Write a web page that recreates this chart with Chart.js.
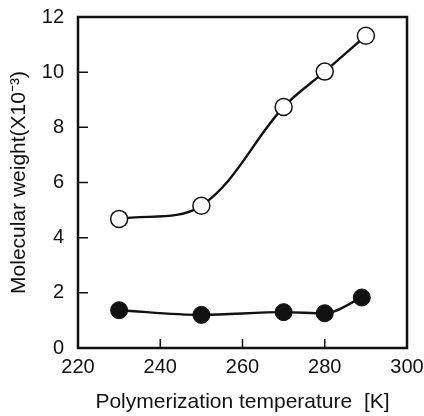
<!DOCTYPE html>
<html>
<head>
<meta charset="UTF-8">
<script src="https://cdn.jsdelivr.net/npm/chart.js"></script>
<style>
  body { margin: 0; background: #fff; }
  #wrap { width: 424px; height: 416px; }
</style>
</head>
<body>
<div id="wrap"><canvas id="c"></canvas></div>
<script>
// values
const tempOpen = [230, 250, 270, 280, 290];
const mwOpen = [4.68, 5.16, 8.74, 10.02, 11.32];
const tempFilled = [230, 250, 270, 280, 289];
const mwFilled = [1.37, 1.2, 1.3, 1.26, 1.83];
const xTicks = [220, 240, 260, 280, 300];
const yTicks = [0, 2, 4, 6, 8, 10, 12];

function pts(xs, ys) {
  return xs.map((x, i) => ({ x: x, y: ys[i] }));
}

// frame box + inward tick marks
const framePlugin = {
  id: 'frame',
  afterDraw(chart) {
    const { ctx, chartArea: a, scales } = chart;
    ctx.save();
    ctx.strokeStyle = '#111';
    ctx.lineWidth = 2.5;
    ctx.strokeRect(a.left, a.top, a.right - a.left, a.bottom - a.top);
    ctx.lineWidth = 1.5;
    ctx.beginPath();
    xTicks.slice(1, -1).forEach(v => {
      const px = scales.x.getPixelForValue(v);
      ctx.moveTo(px, a.bottom);
      ctx.lineTo(px, a.bottom - 9);
    });
    yTicks.slice(1, -1).forEach(v => {
      const py = scales.y.getPixelForValue(v);
      ctx.moveTo(a.left, py);
      ctx.lineTo(a.left + 10, py);
    });
    ctx.stroke();
    ctx.restore();
  }
};

function noOverflow(s) {
  s.paddingTop = 0;
  s.paddingBottom = 0;
  s.paddingLeft = 0;
  s.paddingRight = 0;
}

new Chart(document.getElementById('c'), {
  type: 'line',
  data: {
    datasets: [{
      data: pts(tempOpen, mwOpen),
      borderColor: '#111',
      borderWidth: 2.4,
      pointRadius: 8.5,
      pointBackgroundColor: '#fff',
      pointBorderColor: '#111',
      pointBorderWidth: 1.5,
      tension: 0.35
    }, {
      data: pts(tempFilled, mwFilled),
      borderColor: '#111',
      borderWidth: 2.4,
      pointRadius: 8.5,
      pointBackgroundColor: '#111',
      pointBorderColor: '#111',
      pointBorderWidth: 1,
      cubicInterpolationMode: 'monotone'
    }]
  },
  options: {
    responsive: true,
    maintainAspectRatio: false,
    animation: false,
    layout: { padding: { left: 0, right: 17, top: 17, bottom: 0 } },
    plugins: { legend: { display: false }, tooltip: { enabled: false } },
    scales: {
      x: {
        type: 'linear',
        min: 220,
        max: 300,
        afterBuildTicks(s) { s.ticks = xTicks.map(v => ({ value: v })); },
        afterFit(s) { s.height = 68; noOverflow(s); },
        grid: { display: false, drawTicks: false },
        border: { display: false },
        ticks: { padding: 7, color: '#111', font: { family: 'Liberation Sans', size: 20 } },
        title: {
          display: true,
          text: 'Polymerization temperature  [K]',
          color: '#111',
          font: { family: 'Liberation Sans', size: 21 },
          padding: { top: 4, bottom: 1 }
        }
      },
      y: {
        min: 0,
        max: 12,
        afterBuildTicks(s) { s.ticks = yTicks.map(v => ({ value: v })); },
        afterFit(s) { s.width = 78; noOverflow(s); },
        grid: { display: false, drawTicks: false },
        border: { display: false },
        ticks: { padding: 14, color: '#111', font: { family: 'Liberation Sans', size: 20 } },
        title: {
          display: true,
          text: 'Molecular weight(X10⁻³)',
          color: '#111',
          font: { family: 'Liberation Sans', size: 21 },
          padding: { top: 7, bottom: 0 }
        }
      }
    }
  },
  plugins: [framePlugin]
});
</script>
</body>
</html>
